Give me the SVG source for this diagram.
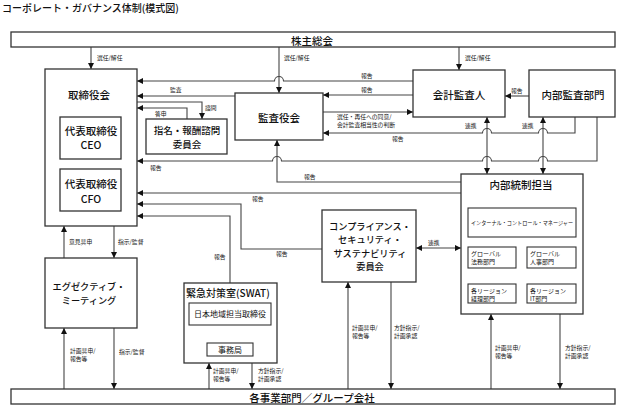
<svg xmlns="http://www.w3.org/2000/svg" width="622" height="405" viewBox="0 0 622 405">
<style>
  text { font-family: "Noto Sans CJK JP", "Noto Sans", sans-serif; fill: #111; }
  .box { fill: #fff; stroke: #333; stroke-width: 1.3; }
  .ibox { fill: #fff; stroke: #333; stroke-width: 1.1; }
  .t { font-size: 10.5px; text-anchor: middle; dominant-baseline: central; font-weight: 500; }
  .tm { font-size: 9.2px; text-anchor: middle; dominant-baseline: central; font-weight: 500; }
  .ts { font-size: 6px; }
  .lb { font-size: 5.8px; }
  .c { fill: none; stroke: #444; stroke-width: 1.1; }
  .a { marker-end: url(#ah); }
  .b { marker-end: url(#ah); marker-start: url(#ah); }
</style>
<defs>
  <marker id="ah" markerUnits="userSpaceOnUse" markerWidth="7" markerHeight="6" refX="6" refY="3" orient="auto-start-reverse">
    <path d="M0,0 L6,3 L0,6 z" fill="#111"/>
  </marker>
</defs>
<rect width="622" height="405" fill="#fff"/>
<text x="2" y="12" style="font-size:10px;font-weight:500">コーポレート・ガバナンス体制(模式図)</text>

<g id="connectors">
  <path class="c a" d="M91,47 V69"/>
  <path class="c a" d="M279,47 V93"/>
  <path class="c a" d="M459,47 V70"/>
  <path class="c a" d="M413,81 H283.5 A4.5,4.5 0 0 0 274.5,81 H137"/>
  <path class="c a" d="M413,95 H323"/>
  <path class="c a" d="M235,96 H137"/>
  <path class="c a" d="M137,102 H202 V119"/>
  <path class="c a" d="M187,119 V108 H137"/>
  <path class="c a" d="M323,112 H413"/>
  <path class="c a" d="M575,117 V133 H547.5 A4.5,4.5 0 0 0 538.5,133 H491.5 A4.5,4.5 0 0 0 482.5,133 H323"/>
  <path class="c a" d="M597,117 V161 H547.5 A4.5,4.5 0 0 0 538.5,161 H491.5 A4.5,4.5 0 0 0 482.5,161 H281.5 A4.5,4.5 0 0 0 272.5,161 H137"/>
  <path class="c a" d="M461,182 H277 V140"/>
  <path class="c b" d="M487,117 V174"/>
  <path class="c b" d="M543,117 V174"/>
  <path class="c a" d="M529,96 H505"/>
  <path class="c a" d="M461,193 H137"/>
  <path class="c a" d="M322,249 H241 V204 H137"/>
  <path class="c a" d="M230,283 V216 H137"/>
  <path class="c b" d="M416,248 H461"/>
  <path class="c a" d="M64,258 V226"/>
  <path class="c a" d="M114,226 V258"/>
  <path class="c a" d="M64,389 V328"/>
  <path class="c a" d="M114,328 V389"/>
  <path class="c a" d="M209,389 V363"/>
  <path class="c a" d="M252,363 V389"/>
  <path class="c a" d="M348,389 V282"/>
  <path class="c a" d="M391,282 V389"/>
  <path class="c a" d="M491,389 V314"/>
  <path class="c a" d="M560,314 V389"/>

  <text class="lb" x="97" y="60">選任/解任</text>
  <text class="lb" x="284" y="60">選任/解任</text>
  <text class="lb" x="465" y="60">選任/解任</text>
  <text class="lb" x="361" y="78">報告</text>
  <text class="lb" x="361" y="92">報告</text>
  <text class="lb" x="170" y="92">監査</text>
  <text class="lb" x="205" y="110">諮問</text>
  <text class="lb" x="155" y="116">答申</text>
  <text class="lb" x="337" y="119">選任・再任への同意/</text>
  <text class="lb" x="337" y="127">会計監査相当性の判断</text>
  <text class="lb" x="392" y="141">報告</text>
  <text class="lb" x="150" y="170">報告</text>
  <text class="lb" x="304" y="179">報告</text>
  <text class="lb" x="465" y="128">連携</text>
  <text class="lb" x="522" y="128">連携</text>
  <text class="lb" x="511" y="93">報告</text>
  <text class="lb" x="252" y="201">報告</text>
  <text class="lb" x="276" y="256">報告</text>
  <text class="lb" x="214" y="259">報告</text>
  <text class="lb" x="428" y="245">連携</text>
  <text class="lb" x="69" y="244">意見具申</text>
  <text class="lb" x="118" y="244">指示/監督</text>
  <text class="lb" x="70" y="353">計画具申/</text>
  <text class="lb" x="70" y="361">報告等</text>
  <text class="lb" x="119" y="354">指示/監督</text>
  <text class="lb" x="213" y="373">計画具申/</text>
  <text class="lb" x="213" y="381">報告等</text>
  <text class="lb" x="258" y="373">方針指示/</text>
  <text class="lb" x="258" y="381">計画承認</text>
  <text class="lb" x="352" y="330">計画具申/</text>
  <text class="lb" x="352" y="338">報告等</text>
  <text class="lb" x="394" y="330">方針指示/</text>
  <text class="lb" x="394" y="338">計画承認</text>
  <text class="lb" x="495" y="350">計画具申/</text>
  <text class="lb" x="495" y="358">報告等</text>
  <text class="lb" x="565" y="350">方針指示/</text>
  <text class="lb" x="565" y="358">計画承認</text>
</g>

<g id="shareholders">
  <rect class="box" x="11" y="32" width="604" height="15"/>
  <text class="t" x="312" y="40">株主総会</text>
</g>
<g id="business">
  <rect class="box" x="11" y="389" width="604" height="15"/>
  <text class="t" x="312" y="397">各事業部門／グループ会社</text>
</g>
<g id="board">
  <rect class="box" x="45" y="69" width="92" height="157"/>
  <text class="t" x="89" y="94">取締役会</text>
</g>
<g id="ceo">
  <rect class="box" x="60" y="117" width="61" height="42"/>
  <text class="t" x="91" y="130">代表取締役</text>
  <text class="t" x="91" y="144">CEO</text>
</g>
<g id="cfo">
  <rect class="box" x="60" y="169" width="61" height="42"/>
  <text class="t" x="91" y="183">代表取締役</text>
  <text class="t" x="91" y="198">CFO</text>
</g>
<g id="nomination">
  <rect class="box" x="146" y="119" width="81" height="35"/>
  <text class="t" x="187" y="129.5" style="font-size:9.5px">指名・報酬諮問</text>
  <text class="t" x="187" y="143.5" style="font-size:9.5px">委員会</text>
</g>
<g id="auditboard">
  <rect class="box" x="235" y="93" width="88" height="47"/>
  <text class="t" x="279" y="117">監査役会</text>
</g>
<g id="accountant">
  <rect class="box" x="413" y="70" width="92" height="47"/>
  <text class="t" x="459" y="94">会計監査人</text>
</g>
<g id="internalaudit">
  <rect class="box" x="529" y="70" width="86" height="47"/>
  <text class="t" x="573" y="94">内部監査部門</text>
</g>
<g id="internalcontrol">
  <rect class="box" x="461" y="174" width="122" height="140"/>
  <text class="t" x="521" y="184">内部統制担当</text>
  <rect class="ibox" x="468" y="208" width="108" height="29"/>
  <text x="522" y="225" text-anchor="middle" style="font-size:5.6px" textLength="102" lengthAdjust="spacingAndGlyphs">インターナル・コントロール・マネージャー</text>
  <rect class="ibox" x="468" y="247" width="48" height="21"/>
  <text class="ts" x="471" y="256">グローバル</text>
  <text class="ts" x="471" y="264">法務部門</text>
  <rect class="ibox" x="527" y="247" width="49" height="21"/>
  <text class="ts" x="530" y="256">グローバル</text>
  <text class="ts" x="530" y="264">人事部門</text>
  <rect class="ibox" x="468" y="284" width="48" height="19"/>
  <text class="ts" x="471" y="293">各リージョン</text>
  <text class="ts" x="471" y="300.5">経理部門</text>
  <rect class="ibox" x="527" y="284" width="49" height="19"/>
  <text class="ts" x="530" y="293">各リージョン</text>
  <text class="ts" x="530" y="300.5">IT部門</text>
</g>
<g id="compliance">
  <rect class="box" x="322" y="210" width="94" height="72"/>
  <text class="tm" x="370" y="226">コンプライアンス・</text>
  <text class="tm" x="370" y="239.4">セキュリティ・</text>
  <text class="tm" x="370" y="252.8">サステナビリティ</text>
  <text class="tm" x="370" y="266.2">委員会</text>
</g>
<g id="executive">
  <rect class="box" x="45" y="258" width="92" height="70"/>
  <text class="tm" x="89" y="286.3">エグゼクティブ・</text>
  <text class="tm" x="89" y="299.7">ミーティング</text>
</g>
<g id="swat">
  <rect class="box" x="184" y="283" width="93" height="80"/>
  <text x="186" y="297" style="font-size:10px;font-weight:500">緊急対策室(SWAT)</text>
  <rect class="ibox" x="189" y="303" width="82" height="22"/>
  <text x="230" y="317" text-anchor="middle" style="font-size:8px">日本地域担当取締役</text>
  <rect class="ibox" x="207" y="343" width="46" height="13"/>
  <text x="230" y="352.5" text-anchor="middle" style="font-size:8px">事務局</text>
</g>
</svg>
